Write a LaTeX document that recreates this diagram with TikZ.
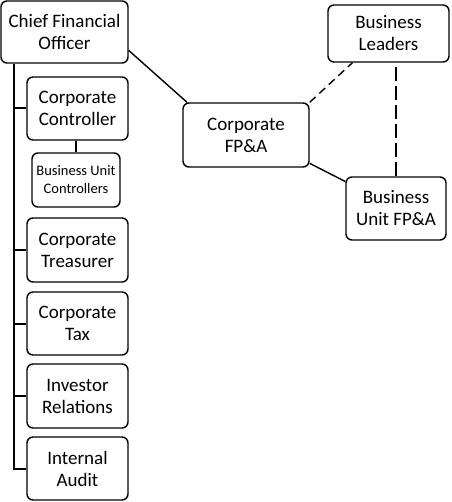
\documentclass[tikz,border=0pt]{standalone}
\usepackage{fontspec}
\setmainfont{Carlito}
\usepackage{tikz}
\usetikzlibrary{calc}

\begin{document}
\begin{tikzpicture}[x=1pt,y=-1pt,
    box/.style={draw, line width=1.4pt, rounded corners=6pt, align=center, inner sep=0pt,
        font=\fontsize{19}{22}\selectfont},
    smallbox/.style={box, font=\fontsize{14.5}{18}\selectfont},
    link/.style={line width=1.4pt},
    dashlink/.style={line width=1.4pt, dash pattern=on 8pt off 5pt}]

    \useasboundingbox (0,0) rectangle (451,502);

    % left column
    \node[box, minimum width=127pt, minimum height=62pt] (cfo) at (64.5,32) {Chief Financial\\Officer};
    \node[box, minimum width=101pt, minimum height=63pt] (ctrl) at (77.5,108.5) {Corporate\\Controller};
    \node[smallbox, minimum width=88pt, minimum height=54pt] (buctrl) at (76,180) {Business Unit\\Controllers};
    \node[box, minimum width=101pt, minimum height=64pt] (treas) at (77.5,250) {Corporate\\Treasurer};
    \node[box, minimum width=101pt, minimum height=63pt] (tax) at (77.5,323.5) {Corporate\\Tax};
    \node[box, minimum width=101pt, minimum height=64pt] (ir) at (77.5,396) {Investor\\Relations};
    \node[box, minimum width=101pt, minimum height=63pt] (audit) at (77.5,468.5) {Internal\\Audit};

    % right group
    \node[box, minimum width=121pt, minimum height=57pt] (leaders) at (388.5,33.5) {Business\\Leaders};
    \node[box, minimum width=126pt, minimum height=64pt] (fpa) at (246,135) {Corporate\\FP\&A};
    \node[box, minimum width=100pt, minimum height=63pt] (bufpa) at (396,208.5) {Business\\Unit FP\&A};

    \coordinate (spine) at (14,0);

    \draw[line width=2pt] (spine |- cfo.south) |- (audit.west);
    \foreach \b in {ctrl,treas,tax,ir}
        \draw[line width=2pt] (spine |- \b.west) -- (\b.west);
    \draw[link] (buctrl.north) -- (buctrl.north |- ctrl.south);

    \draw[link] (cfo.-16) -- (fpa.151);
    \draw[link] (fpa.-24) -- (bufpa.152);
    \draw[dashlink] (fpa.north east) -- (leaders.219);
    \draw[line width=1.4pt, dash pattern=on 14pt off 5pt] (bufpa.north) -- (bufpa.north |- leaders.south);

\end{tikzpicture}
\end{document}
